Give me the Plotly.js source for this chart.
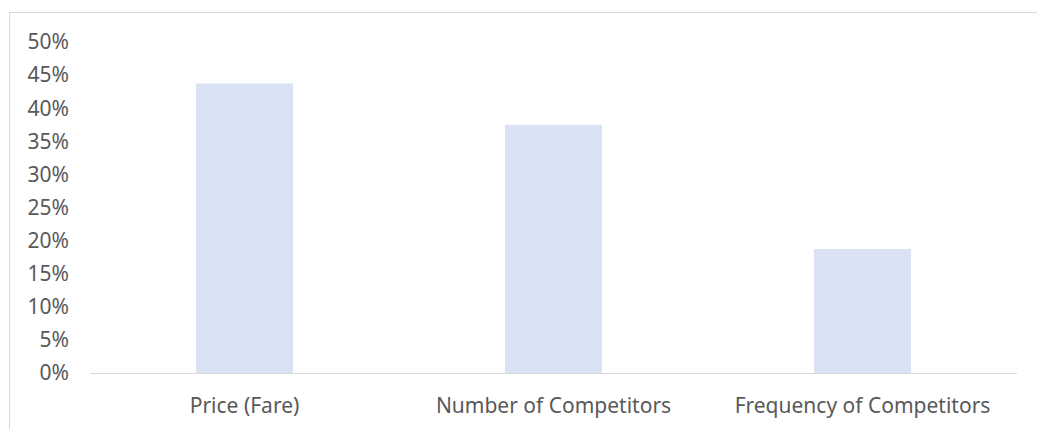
<!DOCTYPE html>
<html>
<head>
<meta charset="utf-8">
<script src="https://cdn.plot.ly/plotly-3.0.1.min.js"></script>
<style>
html,body{margin:0;padding:0;background:#fff;overflow:hidden;}
#frame{position:absolute;left:9px;top:12px;width:1200px;height:600px;border-left:1px solid #d9d9d9;border-top:1px solid #d9d9d9;}
#chart{position:absolute;left:0;top:0;width:1037px;height:429px;}
</style>
</head>
<body>
<div id="frame"></div>
<div id="chart"></div>
<script>
const categories = ["Price (Fare)", "Number of Competitors", "Frequency of Competitors"];
const shares = [0.4375, 0.375, 0.1875];
const yTickValues = [0, 0.05, 0.10, 0.15, 0.20, 0.25, 0.30, 0.35, 0.40, 0.45, 0.50];
const yTickLabels = ["0%", "5%", "10%", "15%", "20%", "25%", "30%", "35%", "40%", "45%", "50%"];

Plotly.newPlot('chart', [{
  type: 'bar',
  x: categories,
  y: shares,
  marker: {color: '#dae3f3'},
  hoverinfo: 'none'
}], {
  width: 1037, height: 429,
  margin: {l: 90, r: 20, t: 42, b: 56},
  paper_bgcolor: 'rgba(0,0,0,0)',
  plot_bgcolor: 'rgba(0,0,0,0)',
  bargap: 0.686,
  showlegend: false,
  font: {family: 'Noto Sans, sans-serif', size: 21, color: '#595959'},
  xaxis: {
    showline: true, linecolor: '#d9d9d9', linewidth: 1,
    showgrid: false, zeroline: false, ticks: '',
    ticklabelstandoff: 14,
    tickfont: {size: 21, color: '#595959'}
  },
  yaxis: {
    range: [0, 0.5],
    tickvals: yTickValues, ticktext: yTickLabels,
    showgrid: false, zeroline: false, showline: false, ticks: '',
    ticklabelstandoff: 20,
    tickfont: {size: 21, color: '#595959'}
  }
}, {staticPlot: true});
</script>
</body>
</html>
